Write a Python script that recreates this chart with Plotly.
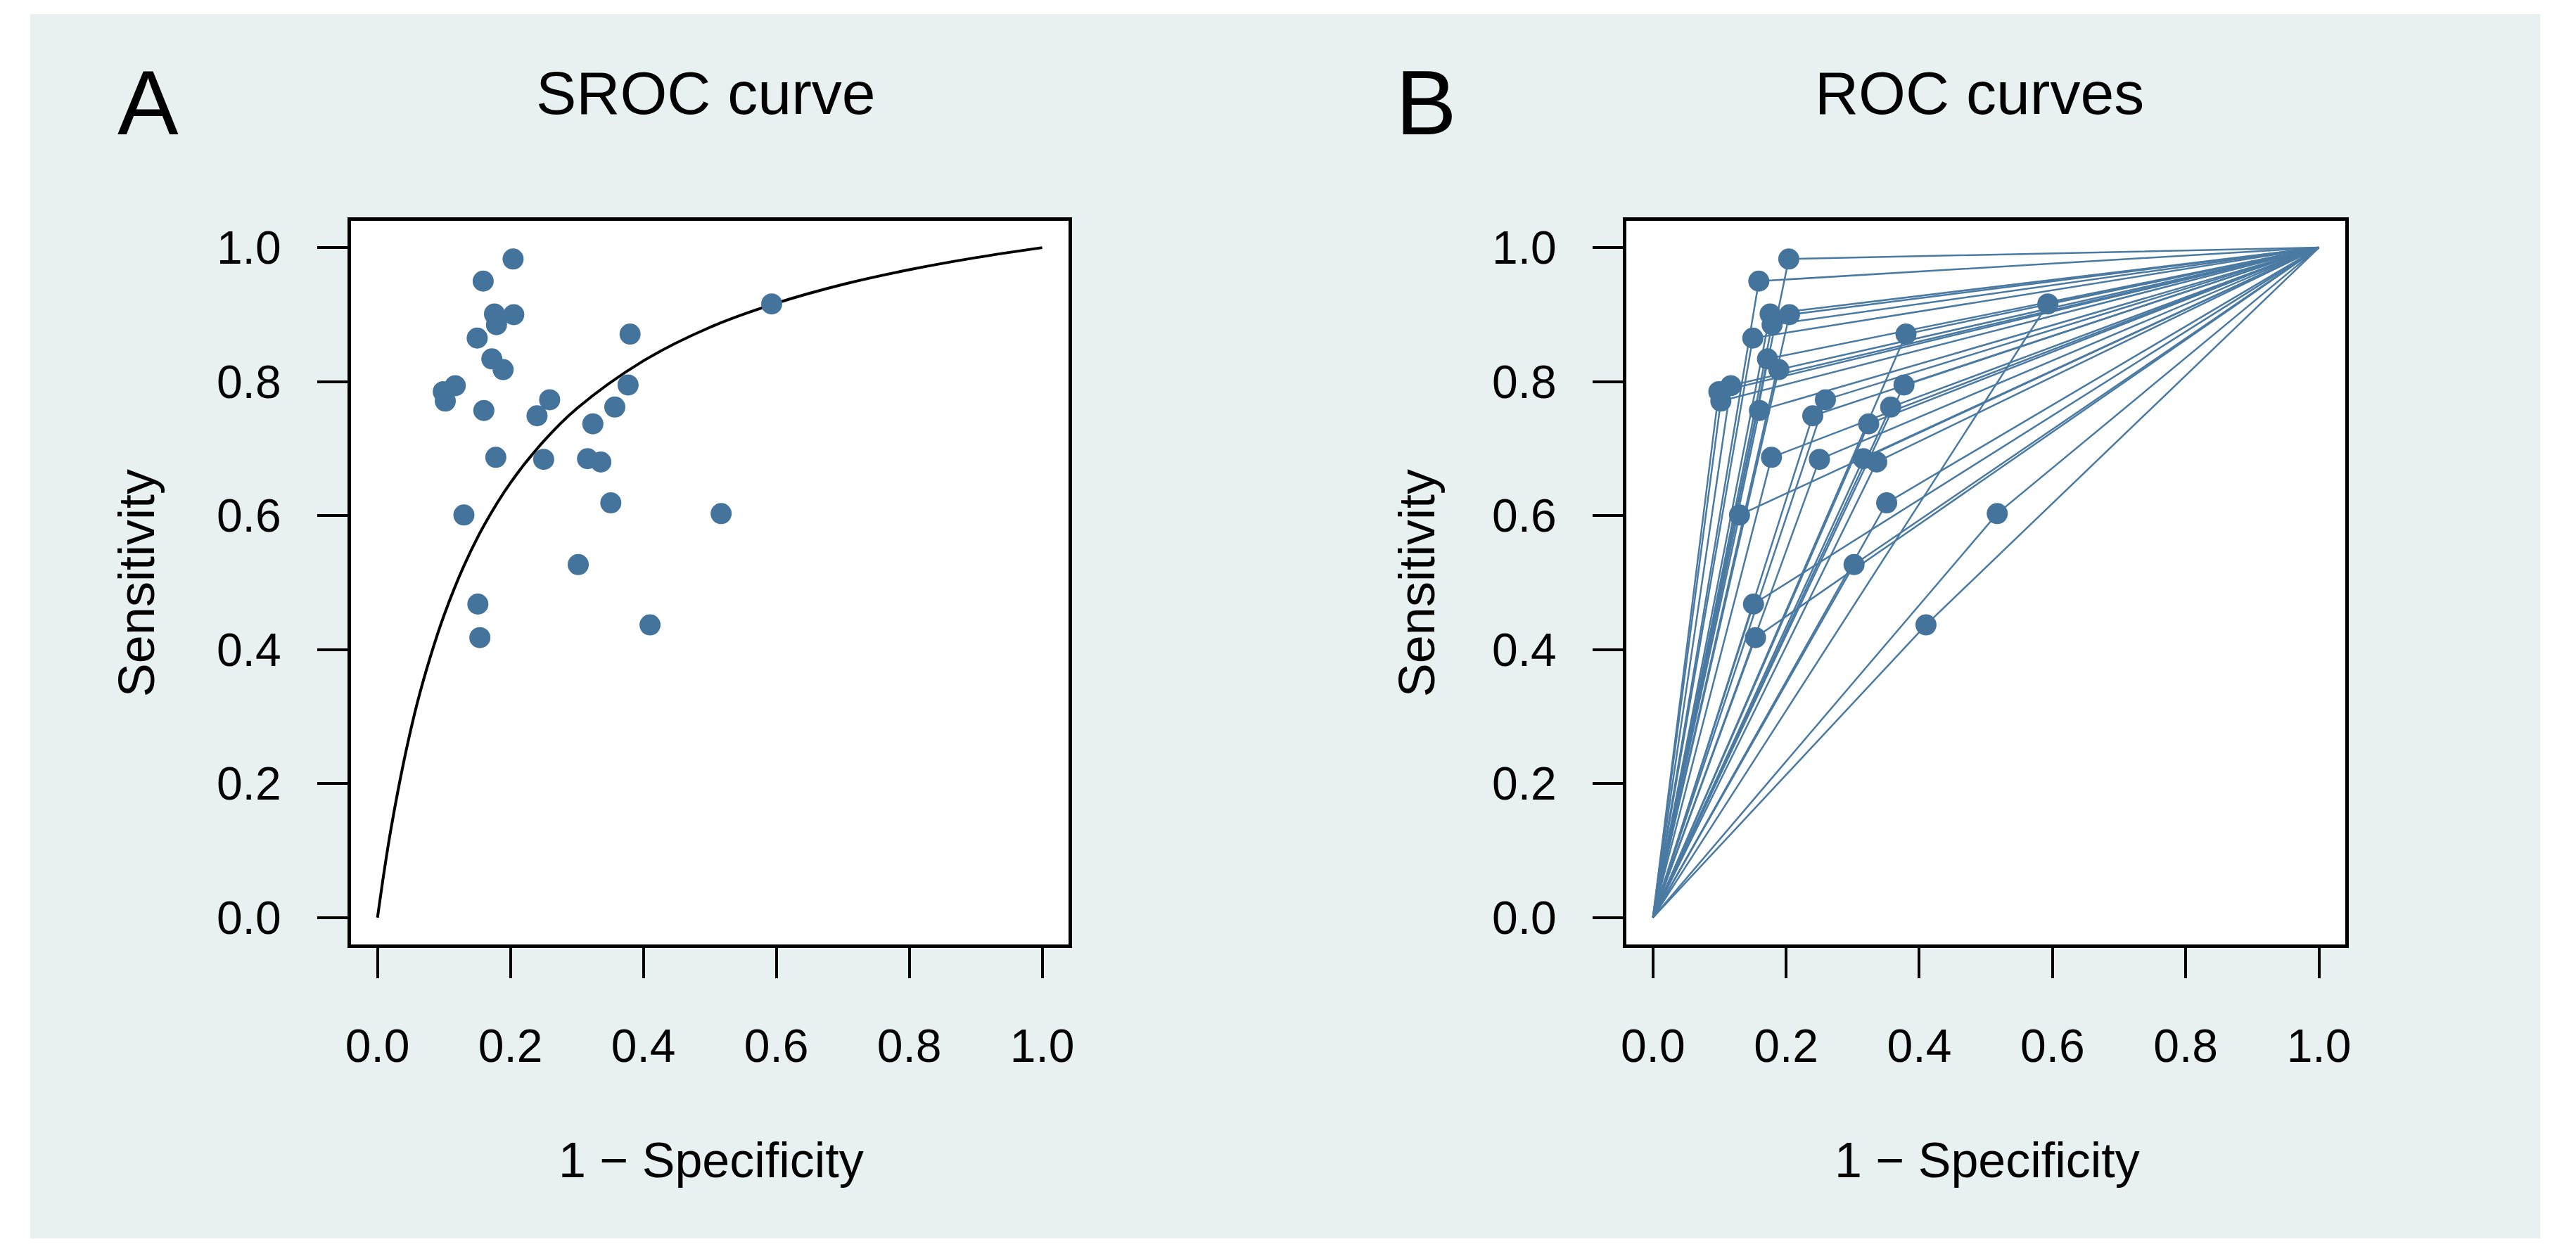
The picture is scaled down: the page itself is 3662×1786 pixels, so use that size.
import plotly.graph_objects as go

# study points (1 - specificity, sensitivity)
fpr = [0.204, 0.159, 0.176, 0.205, 0.179, 0.150, 0.380, 0.172, 0.189, 0.593,
       0.117, 0.099, 0.102, 0.160, 0.259, 0.240, 0.377, 0.357, 0.324, 0.178,
       0.250, 0.316, 0.336, 0.351, 0.517, 0.130, 0.302, 0.151, 0.154, 0.410]
sens = [0.983, 0.950, 0.901, 0.900, 0.885, 0.865, 0.871, 0.834, 0.818, 0.916,
        0.794, 0.785, 0.771, 0.757, 0.773, 0.749, 0.795, 0.762, 0.737, 0.687,
        0.684, 0.685, 0.680, 0.619, 0.603, 0.601, 0.527, 0.468, 0.418, 0.437]

# SROC curve
sroc_x = [0.0, 0.01, 0.02, 0.04, 0.06, 0.08, 0.10, 0.13, 0.16, 0.20, 0.25,
          0.30, 0.40, 0.50, 0.60, 0.70, 0.80, 0.90, 1.0]
sroc_y = [0.0, 0.069, 0.131, 0.235, 0.321, 0.391, 0.451, 0.525, 0.585, 0.649,
          0.711, 0.760, 0.831, 0.881, 0.917, 0.945, 0.967, 0.985, 1.0]

tick_vals = [0, 0.2, 0.4, 0.6, 0.8, 1.0]
tick_text = ["0.0", "0.2", "0.4", "0.6", "0.8", "1.0"]

W, H = 3662, 1786
FONT = "Liberation Sans"
DOT = "#44739c"
LINE = "#4a7aa2"

fig = go.Figure()

# panel A
fig.add_trace(go.Scatter(x=sroc_x, y=sroc_y, mode="lines", line=dict(color="black", width=4, shape="spline"),
                         xaxis="x", yaxis="y", showlegend=False, hoverinfo="skip"))
fig.add_trace(go.Scatter(x=fpr, y=sens, mode="markers", marker=dict(color=DOT, size=30),
                         xaxis="x", yaxis="y", showlegend=False))

# panel B: each study joined to (0,0) and (1,1)
roc_x, roc_y = [], []
for fx, sy in zip(fpr, sens):
    roc_x += [0, fx, 1, None]
    roc_y += [0, sy, 1, None]
fig.add_trace(go.Scatter(x=roc_x, y=roc_y, mode="lines", line=dict(color=LINE, width=2.5),
                         xaxis="x2", yaxis="y2", showlegend=False, hoverinfo="skip"))
fig.add_trace(go.Scatter(x=fpr, y=sens, mode="markers", marker=dict(color=DOT, size=30),
                         xaxis="x2", yaxis="y2", showlegend=False))

axis_style = dict(range=[-0.04, 1.04], tickvals=tick_vals, ticktext=tick_text,
                  ticks="outside", ticklen=43, tickwidth=4, tickcolor="black",
                  showline=True, linewidth=5, linecolor="black", mirror=True,
                  showgrid=False, zeroline=False,
                  tickfont=dict(family=FONT, size=66, color="black"))

# light panel behind everything, white plot areas on top of it
shapes = [dict(type="rect", xref="paper", yref="paper", layer="below",
               x0=35 / W, x1=3619 / W, y0=1 - 1761 / H, y1=1 - 20 / H,
               fillcolor="#e9f0f2", line=dict(width=0))]
for xr, yr in [("x domain", "y domain"), ("x2 domain", "y2 domain")]:
    shapes.append(dict(type="rect", xref=xr, yref=yr, layer="below", x0=0, x1=1, y0=0, y1=1,
                       fillcolor="white", line=dict(width=0)))

y_dom = [1 - 1343 / H, 1 - 314 / H]
fig.update_layout(
    width=W, height=H, margin=dict(l=0, r=0, t=0, b=0),
    paper_bgcolor="white", plot_bgcolor="white",
    xaxis=dict(domain=[493 / W, 1518 / W], anchor="y", ticklabelstandoff=40, **axis_style),
    yaxis=dict(domain=y_dom, anchor="x", ticklabelstandoff=38, **axis_style),
    xaxis2=dict(domain=[2314 / W, 3341 / W], anchor="y2", ticklabelstandoff=40, **axis_style),
    yaxis2=dict(domain=y_dom, anchor="x2", ticklabelstandoff=38, **axis_style),
    shapes=shapes,
)

def note(text, x, y, size, angle=0):
    fig.add_annotation(text=text, x=x / W, y=1 - y / H, xref="paper", yref="paper",
                       showarrow=False, xanchor="center", yanchor="middle", textangle=angle,
                       font=dict(family=FONT, size=size, color="black"))

note("A", 203, 146, 130)
note("SROC curve", 1000, 132, 86)
note("B", 2028, 146, 130)
note("ROC curves", 2818, 132, 86)
note("1 \u2212 Specificity", 1007, 1650, 70)
note("1 \u2212 Specificity", 2829, 1650, 70)
note("Sensitivity", 187, 829, 72, -90)
note("Sensitivity", 2015, 829, 72, -90)

fig.write_html("out.html", config={"displayModeBar": False},
               post_script="document.body.style.margin='0';document.body.style.overflow='hidden';")
